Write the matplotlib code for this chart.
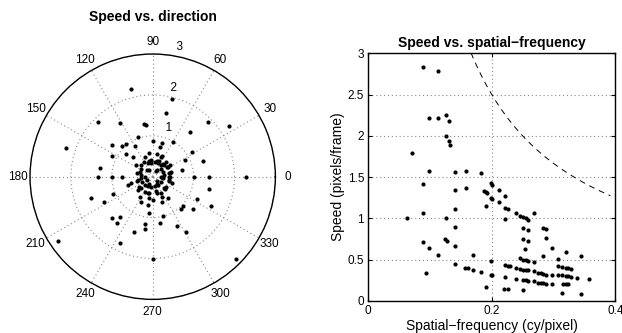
import numpy as np
import matplotlib
matplotlib.use("Agg")
import matplotlib.pyplot as plt

plt.rcParams['font.family'] = ['Liberation Sans', 'DejaVu Sans']

# ---------------- data: velocity components (pixels/frame) ----------------
vel_x = [-0.53, 0.48, 0.32, -0.22, -0.17, -1.34, -0.81, 1.36, 1.87, 0.90,
         -0.37, 0.50, -0.99, -0.75, -0.65, -0.43, -2.13, -0.99, -0.65, -0.49,
         0.95, 1.23, 0.80, 0.71, -1.30, -1.34, -0.99, -0.75, 1.01, 1.37,
         2.29, -0.60, 1.37, -0.96, -1.51, -1.20, 1.09, 1.42, 0.73, 0.68,
         0.99, -0.99, -0.87, -0.79, -0.09, 0.25, 0.19, -0.18, -0.20, -0.45,
         0.60, 0.81, -0.80, -2.31, 0.00, 2.04,
         0.00, 0.22, 0.17, -0.10, 0.10, 0.22, 0.26, 0.42, 0.44, -0.37,
         -0.33, -0.31, -0.29, -0.08, -0.11, 0.00, 0.22, 0.23, 0.37, 0.41,
         0.42, 0.41, 0.34,
         -0.11, -0.03, 0.05, 0.13, 0.21, -0.28, -0.32, -0.29, -0.28, -0.26,
         -0.20, -0.11, -0.03, 0.05, 0.13, 0.21, 0.25, 0.28, 0.25, 0.21,
         -0.15, 0.09, -0.13, 0.11,
         -0.52, -0.40, 0.33, 0.37, 0.42, 0.33, -0.36, -0.11, 0.21, -0.20,
         0.21, 0.46, -0.05, 0.16, -0.22, 0.30, -0.18, 0.08,
         0.39, 0.28, 0.10, -0.10, -0.28, -0.39, -0.39, -0.28, -0.10, 0.10,
         0.28, 0.39, 0.20, 0.10, -0.10, -0.20, -0.10, 0.10]
vel_y = [2.14, 1.90, 1.55, 1.30, 1.26, 1.34, 1.32, 1.34, 1.23, 1.10,
         0.98, 0.86, 0.78, 0.76, 0.80, 0.75, 0.71, 0.51, 0.56, 0.49,
         0.60, 0.39, 0.40, 0.16, 0.21, 0.00, 0.00, 0.00, 0.00, 0.00,
         0.00, -0.20, -0.29, -0.43, -0.51, -0.61, -0.55, -0.72, -0.72, -0.80,
         -0.80, -1.02, -1.12, -0.99, -0.89, -0.96, -1.12, -1.16, -1.29, -1.36,
         -1.21, -1.34, -1.62, -1.56, -2.02, -2.02,
         0.87, 0.82, 0.73, 0.59, 0.55, 0.50, 0.30, 0.29, 0.12, -0.08,
         -0.24, -0.49, -0.61, -0.51, -0.69, -0.56, -0.61, -0.49, -0.53, 0.00,
         0.08, -0.08, 0.24,
         0.33, 0.34, 0.35, 0.33, 0.29, 0.20, 0.12, 0.04, -0.04, -0.12,
         -0.20, -0.23, -0.24, -0.23, -0.20, 0.20, 0.12, 0.04, -0.04, -0.12,
         0.16, 0.15, -0.07, -0.10,
         -0.16, 0.29, 0.37, 0.24, 0.00, -0.24, -0.33, -0.41, -0.41, 0.49,
         0.49, -0.16, 0.40, 0.38, 0.36, -0.30, -0.38, -0.36,
         0.10, 0.28, 0.39, 0.39, 0.28, 0.10, -0.10, -0.28, -0.39, -0.39,
         -0.28, -0.10, 0.00, 0.17, 0.17, 0.00, -0.17, -0.17]

# ---------------- data: speed vs spatial frequency ----------------
spatial_freq = [0.0885, 0.113, 0.099, 0.113, 0.126, 0.130, 0.126, 0.130, 0.133, 0.070,
                0.099, 0.0885, 0.140, 0.159, 0.182, 0.140, 0.159, 0.199, 0.201, 0.188,
                0.190, 0.192, 0.211, 0.199, 0.201, 0.211, 0.190, 0.221, 0.221, 0.226,
                0.063, 0.0885, 0.126, 0.140, 0.221, 0.239, 0.245, 0.250, 0.255, 0.259,
                0.268, 0.250, 0.259, 0.283, 0.288, 0.140, 0.0885, 0.099, 0.125, 0.128,
                0.140, 0.250, 0.259, 0.288, 0.253, 0.297, 0.113, 0.169, 0.283, 0.199,
                0.320, 0.308, 0.344, 0.245, 0.250, 0.255, 0.259, 0.268, 0.140, 0.221,
                0.226, 0.229, 0.239, 0.245, 0.250, 0.255, 0.259, 0.268, 0.275, 0.280,
                0.283, 0.288, 0.297, 0.308, 0.314, 0.320, 0.324, 0.328, 0.308, 0.313,
                0.320, 0.324, 0.328, 0.338, 0.357, 0.157, 0.161, 0.169, 0.182, 0.199,
                0.201, 0.094, 0.221, 0.239, 0.250, 0.255, 0.259, 0.268, 0.275, 0.280,
                0.283, 0.288, 0.297, 0.315, 0.320, 0.324, 0.190, 0.219, 0.226, 0.250,
                0.313, 0.344]
speed_sf = [2.83, 2.78, 2.22, 2.22, 2.25, 2.18, 2.00, 1.94, 1.89, 1.79,
            1.58, 1.42, 1.56, 1.57, 1.55, 1.34, 1.37, 1.43, 1.41, 1.33,
            1.32, 1.31, 1.34, 1.25, 1.24, 1.20, 1.15, 1.27, 1.13, 1.11,
            1.00, 1.06, 1.00, 1.12, 0.99, 1.06, 1.03, 1.02, 1.01, 0.98,
            1.06, 0.88, 0.86, 0.88, 0.87, 0.90, 0.71, 0.64, 0.75, 0.73,
            0.67, 0.75, 0.73, 0.76, 0.63, 0.64, 0.56, 0.56, 0.55, 0.48,
            0.59, 0.51, 0.55, 0.52, 0.50, 0.50, 0.49, 0.47, 0.45, 0.43,
            0.42, 0.42, 0.40, 0.39, 0.38, 0.38, 0.37, 0.36, 0.34, 0.34,
            0.33, 0.32, 0.32, 0.42, 0.41, 0.40, 0.40, 0.39, 0.31, 0.31,
            0.30, 0.30, 0.29, 0.28, 0.27, 0.40, 0.40, 0.38, 0.35, 0.32,
            0.31, 0.34, 0.29, 0.27, 0.25, 0.25, 0.24, 0.24, 0.22, 0.22,
            0.22, 0.21, 0.21, 0.20, 0.20, 0.20, 0.17, 0.15, 0.14, 0.13,
            0.10, 0.09]

# limit curve: speed = limit_const / frequency
limit_const = 0.5
limit_freq_range = [0.16, 0.392]

r_ticks = [1, 2, 3]
theta_ticks = list(range(0, 360, 30))
x_ticks = [0, 0.2, 0.4]
y_ticks = [0, 0.5, 1, 1.5, 2, 2.5, 3]
y_ticklabels = ['0', '0.5', '1', '1.5', '2', '2.5', '3']

# ---------------- figure ----------------
fig = plt.figure(figsize=(6.22, 3.33), dpi=100)
grid_kw = dict(color='#8a8a8a', linestyle=(0, (1, 2.5)), linewidth=0.8)

# polar plot
vx = np.array(vel_x)
vy = np.array(vel_y)
theta = np.arctan2(vy, vx)
speed = np.hypot(vx, vy)

axp = fig.add_axes([0.0482, 0.1009, 0.3946, 0.7369], projection='polar')
axp.plot(theta, speed, 'k.', markersize=6.0, markeredgewidth=0)
axp.set_rlim(0, 3)
axp.set_rticks(r_ticks)
axp.set_yticklabels([])
axp.set_thetagrids(theta_ticks, [str(t) for t in theta_ticks])
axp.tick_params(axis='x', pad=-1.5, labelsize=8.5)
axp.grid(True, **grid_kw)
axp.spines['polar'].set_linewidth(1.0)
axp.spines['polar'].set_color('black')
for r in r_ticks:
    axp.text(np.deg2rad(82), r + 0.05, '  ' + str(r), ha='left', va='bottom',
             fontsize=8.5)
axp.set_title('Speed vs. direction', fontsize=10, fontweight='bold', y=1.135, pad=0)

# cartesian plot
axc = fig.add_axes([0.5921, 0.0961, 0.3971, 0.7438])
axc.plot(spatial_freq, speed_sf, 'k.', markersize=6.0, markeredgewidth=0)
fx = np.linspace(limit_freq_range[0], limit_freq_range[1], 200)
axc.plot(fx, limit_const / fx, 'k', linestyle=(0, (6, 5)), linewidth=0.7)
axc.set_xlim(0, 0.4)
axc.set_ylim(0, 3)
axc.set_xticks(x_ticks)
axc.set_xticklabels(['0', '0.2', '0.4'])
axc.set_yticks(y_ticks)
axc.set_yticklabels(y_ticklabels)
axc.grid(True, **grid_kw)
axc.tick_params(direction='in', top=True, right=True, length=3, labelsize=8.5, pad=3)
for s in axc.spines.values():
    s.set_linewidth(1.0)
axc.set_xlabel('Spatial\u2212frequency (cy/pixel)', fontsize=10, labelpad=1)
axc.set_ylabel('Speed (pixels/frame)', fontsize=10, labelpad=2)
axc.set_title('Speed vs. spatial\u2212frequency', fontsize=10, fontweight='bold', pad=4.5)

fig.savefig('out.png', dpi=100)
